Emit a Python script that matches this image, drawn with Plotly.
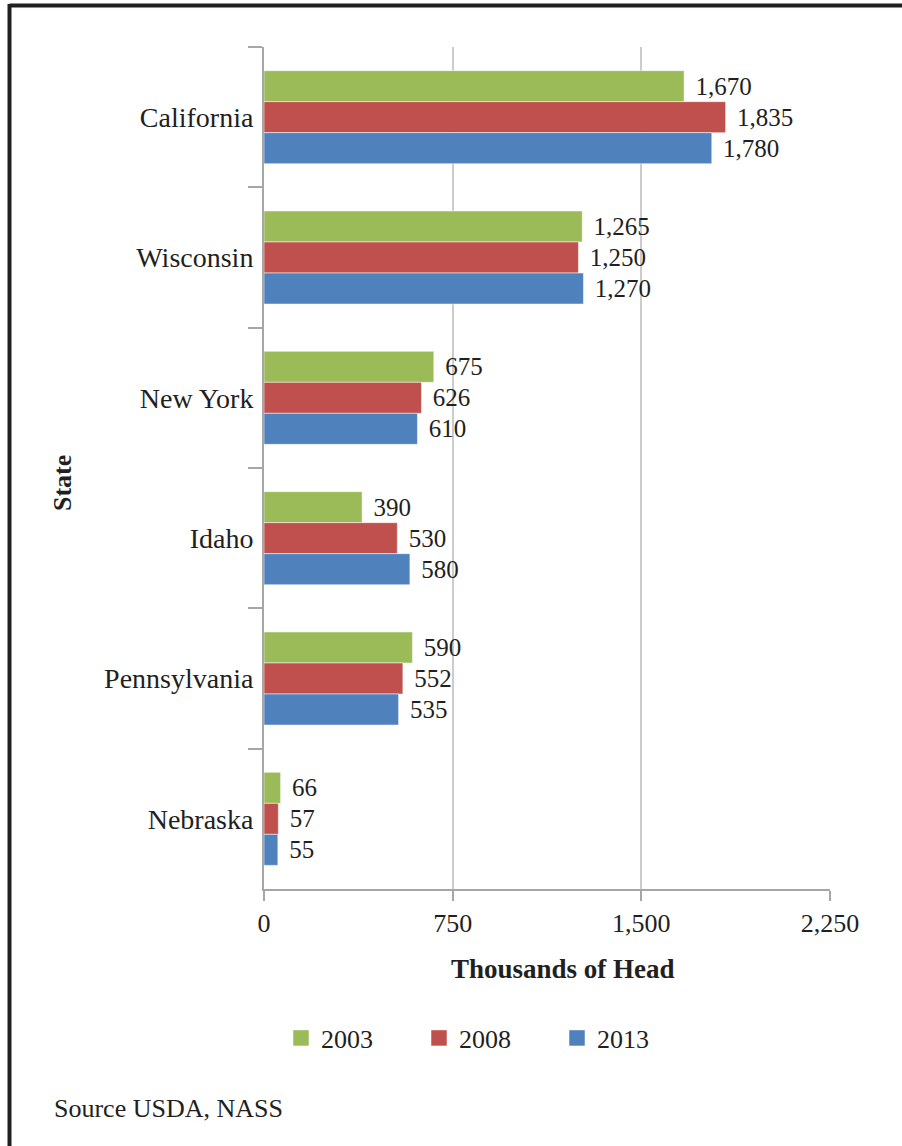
import plotly.graph_objects as go

states = ["California", "Wisconsin", "New York", "Idaho", "Pennsylvania", "Nebraska"]
years = ["2003", "2008", "2013"]
v2003 = [1670, 1265, 675, 390, 590, 66]
v2008 = [1835, 1250, 626, 530, 552, 57]
v2013 = [1780, 1270, 610, 580, 535, 55]
colors = ["#9BBB59", "#C0504D", "#4F81BD"]
x_ticks = [0, 750, 1500, 2250]
x_tick_labels = ["0", "750", "1,500", "2,250"]

W, H = 902, 1146
L, R, T, B = 264, 72, 47, 257
pw, ph = W - L - R, H - T - B

def px2paper_x(px):
    return (px - L) / pw

def px2paper_y(py):
    return (H - B - py) / ph

FONT = "Liberation Serif"
TXT = "#231f20"

fig = go.Figure()
for yr, vals, c in zip(years, [v2003, v2008, v2013], colors):
    fig.add_trace(go.Bar(
        name=yr, y=states, x=vals, orientation="h", showlegend=False,
        marker=dict(color=c, line=dict(color="rgba(255,255,255,0.5)", width=1)),
        text=["\u00a0\u200a" + f"{v:,}" for v in vals],
        textposition="outside", constraintext="none", cliponaxis=False,
        textfont=dict(family=FONT, size=25, color=TXT),
    ))
# legend entries (square swatches)
for yr, c in zip(years, colors):
    fig.add_trace(go.Scatter(
        name=yr, x=[None], y=[None], mode="markers", showlegend=True,
        marker=dict(symbol="square", size=18, color=c,
                    line=dict(color="rgba(255,255,255,0.5)", width=1)),
    ))

fig.update_layout(
    width=W, height=H,
    margin=dict(l=L, r=R, t=T, b=B, pad=0),
    paper_bgcolor="white", plot_bgcolor="white",
    barmode="group", bargap=0.337, bargroupgap=0,
    font=dict(family=FONT, color=TXT),
    showlegend=True,
    legend=dict(orientation="h", x=px2paper_x(281), y=px2paper_y(1038),
                xanchor="left", yanchor="middle", traceorder="normal",
                itemsizing="trace",
                font=dict(family=FONT, size=26, color=TXT),
                entrywidth=93, entrywidthmode="pixels"),
    xaxis=dict(range=[0, 2250], tickvals=x_ticks, ticktext=x_tick_labels,
               showgrid=True, gridcolor="#cccccc", gridwidth=2,
               zeroline=False, showline=True, linecolor="#a6a6a6", linewidth=2,
               ticks="outside", ticklen=10, tickcolor="#a6a6a6", tickwidth=2,
               tickfont=dict(family=FONT, size=26, color=TXT)),
    yaxis=dict(categoryorder="array", categoryarray=states, autorange="reversed",
               showline=True, linecolor="#a6a6a6", linewidth=2,
               ticks="outside", ticklen=14, tickcolor="#a6a6a6", tickwidth=2,
               tickson="boundaries", showgrid=False, ticklabelstandoff=3,
               tickfont=dict(family=FONT, size=28, color=TXT)),
)

fig.add_annotation(text="<b>Thousands of Head</b>", xref="paper", yref="paper",
                   x=px2paper_x(563), y=px2paper_y(969), xanchor="center", yanchor="middle",
                   showarrow=False, font=dict(family=FONT, size=27, color=TXT))
fig.add_annotation(text="<b>State</b>", xref="paper", yref="paper", textangle=-90,
                   x=px2paper_x(63), y=px2paper_y(483), xanchor="center", yanchor="middle",
                   showarrow=False, font=dict(family=FONT, size=26, color=TXT))
fig.add_annotation(text="Source USDA, NASS", xref="paper", yref="paper",
                   x=px2paper_x(52), y=px2paper_y(1108), xanchor="left", yanchor="middle",
                   showarrow=False, font=dict(family=FONT, size=26, color=TXT))

# frame (top and left)
fig.add_shape(type="line", xref="paper", yref="paper",
              x0=px2paper_x(9.5), x1=px2paper_x(905), y0=px2paper_y(5.5), y1=px2paper_y(5.5),
              line=dict(color="#231f20", width=4))
fig.add_shape(type="line", xref="paper", yref="paper",
              x0=px2paper_x(9.5), x1=px2paper_x(9.5), y0=px2paper_y(4), y1=px2paper_y(1150),
              line=dict(color="#231f20", width=4))

fig.write_html("out.html", config={"displayModeBar": False},
               post_script="document.body.style.margin='0';document.body.style.overflow='hidden';")
